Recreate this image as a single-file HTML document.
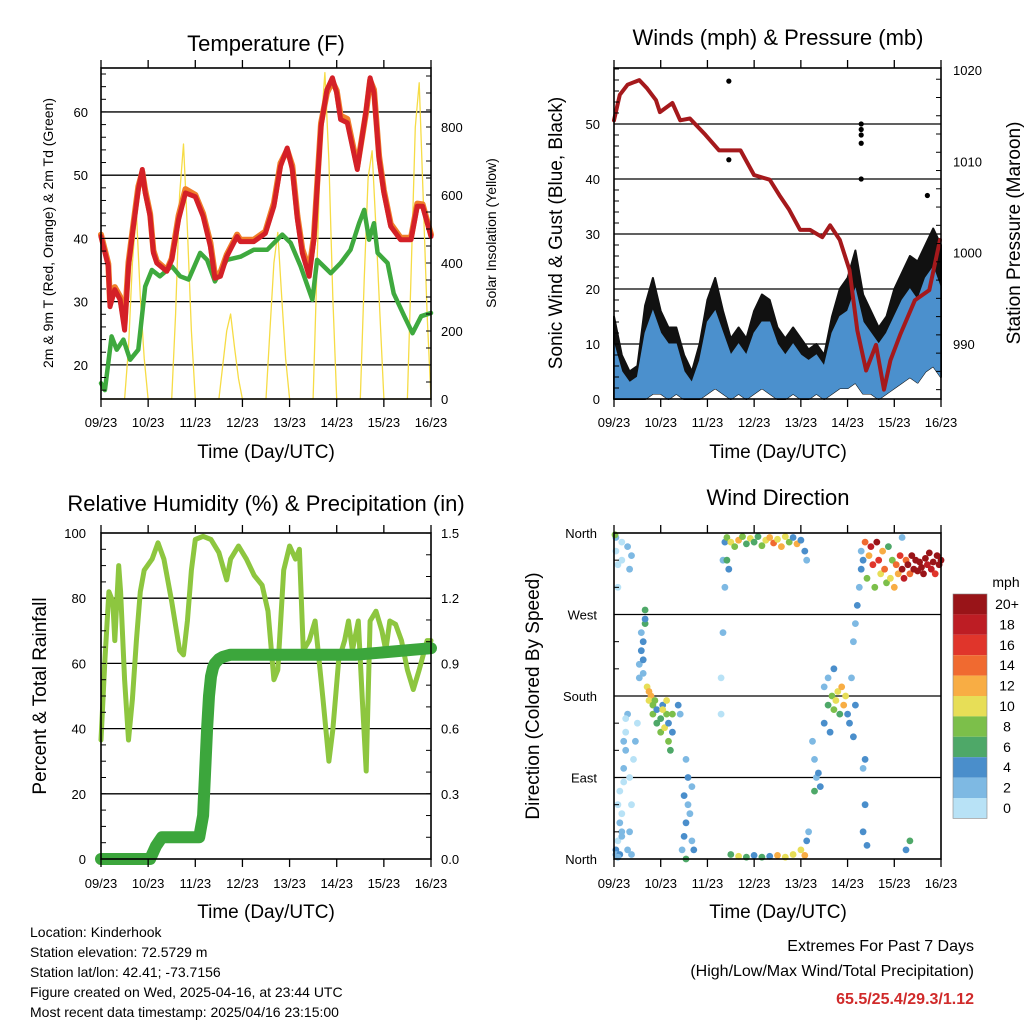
<!DOCTYPE html>
<html><head><meta charset="utf-8">
<style>
html,body{margin:0;padding:0;background:#fff;}
svg{display:block;font-family:"Liberation Sans",sans-serif;}
</style></head>
<body>
<svg id="c" width="1024" height="1024" viewBox="0 0 1024 1024"></svg>
<script>
// ---------- DATA ----------
const tempHours=[0,3.7,4.6,7,9.7,12,14,16.5,19,21,22.5,25,26.7,28.4,33.5,36,39.5,43,48,52,55.7,58,60.8,64,69.3,70.9,77.8,83.7,88,91.4,94.8,97.4,100,102.5,106,108.4,112,115,117.8,120,122,125.4,130.5,135,137,139,141.6,144,147.5,152.5,157.8,161,163.7,168];
const temp2m=[40.3,35.6,29.2,31.9,30.3,25.5,35.6,41.9,47.7,50.9,47.2,43.5,37.7,36.1,34.8,36.6,43,47.2,46.6,43.5,38.7,33.7,34,37.1,40.3,39.5,39.5,40.8,45.1,51.4,54.3,50.9,43,37.7,34,39.8,57.7,63.5,65.4,63,58.8,58.3,50.9,60.4,65.4,63,52.5,47.2,41.9,39.8,39.8,45.1,45.1,40.3];
const temp9m=[40.6,36.0,30.0,32.3,30.8,26.5,36.2,42.3,48.2,50.5,47.6,43.9,38.1,36.4,35.0,36.8,43.6,47.8,46.9,43.9,39.3,34.3,34.6,37.4,40.6,39.8,39.8,41.1,45.6,51.9,54.0,51.5,43.6,38.3,35.0,40.3,58.2,63.0,64.8,63.4,59.4,58.9,51.4,60.0,65.0,63.5,53.0,47.6,42.3,40.1,40.1,45.5,45.4,40.6];
const tdHours=[0,2,5.4,8,11.4,14.8,19,22.5,25.9,30,36,40.3,44.6,50.5,54,58,64,71,77.8,84.6,92.3,96.5,101.6,107.6,110,117,122,127,131.4,134,136.5,139,140.8,145.9,149,154.4,158.6,163,168];
const dewpoint=[17.1,16,24.5,22.4,24,20.8,22.4,32.4,35,34,35.6,34,33.5,37.7,36.6,33.2,36.6,37.1,38.2,38.2,40.6,39.3,35.6,30.3,36.6,34.5,36.1,38.2,42.4,44.5,39.8,42.4,37.7,36.1,31.3,27.7,25,27.7,28.2];
// solar every 2 hours starting hour 0
const solar=[0,0,0,0,0,0,0,150,400,550,300,120,
0,0,0,0,0,0,0,250,600,750,500,200,
0,0,0,0,0,0,0,100,200,250,150,60,
0,0,0,0,0,0,0,200,400,490,300,120,
0,0,0,0,0,0,0,400,800,960,700,300,
0,0,0,0,0,0,0,350,650,730,500,250,
0,0,0,0,0,0,0,400,800,930,600,250,0];
const presHours=[0,3,7,13,17,21.6,23.6,30,34,39,47,54,65,72,80,85,90,95.6,100.7,107,111,116,121,125,129.5,134.6,138.7,142,147,154.6,162,167.5];
const pressure=[1014.5,1017.3,1018.4,1018.9,1018.0,1016.7,1015.4,1016.4,1014.5,1014.7,1012.9,1011.2,1011.2,1008.5,1008,1006.3,1004.7,1002.5,1002.5,1001.7,1003,1001.4,998.1,991.5,987.1,989.9,985,988.2,991,994.8,995.9,1001.4];
// wind every 4 hours
const windLo=[0,0,0,0,0,1,1,0,1,0,0,0,1,2,1,0,1,0,1,2,1,0,0,1,0,0,1,0,1,2,2,3,1,1,0,1,2,3,4,3,5,6,4];
const windHi=[10,5,3,4,12,16,12,10,10,5,3,7,14,16,12,8,10,8,12,14,14,10,8,10,8,7,8,6,12,15,16,20,14,12,10,12,15,18,20,18,22,24,20];
const gustHi=[15,8,5,6,17,22,16,13,13,8,5,10,18,22,16,11,13,11,16,19,18,13,11,13,11,9,10,8,15,20,22,27,19,16,13,15,20,23,26,25,28,31,28];
const gustOutHours=[59,59,127,127,127,127,127,161];
const gustOutVals=[57.8,43.5,50,49,48,46.5,40,37];
const rhHours=[0,2,4,6,7,9,10,12,14,16,18,20,22,26,29,32,36,40,42,44,46,48,52,56,60,64,66,70,74,78,82,85,88,90,93,96,99,101,103,106,109,113,116,118,121,124,126,128,131,133,135,137,140,143,145,147,150,153,156,159,162,166,168];
const rh=[36.5,61,82,79,67,90,82,55,36.5,49,67,82,88.6,92,97,92,79,64,62.6,73,88.6,98,99,98,94,85.6,92,96,92,87,84,76,55,58,88.6,96,92,95,64,67,73,49,30,39.6,61,67,73,64,73,49,27,73,76,70,64,73,72,67,58,52,58,67,67];
const precipHours=[0,25,28,31,50,52,53,54,55,56,57,58,60,62,66,130,168];
const precip=[0,0,0.06,0.1,0.1,0.2,0.4,0.6,0.75,0.84,0.88,0.9,0.92,0.93,0.94,0.94,0.97];
// wind direction points: [hour, degrees, mph]
const dirPts=[[1,355,2],[1,340,1],[2,325,0],[2,300,1],[4,350,1],[4,330,0],[7,345,3],[8,320,2],[9,335,2],[0.5,358,8],
[1,10,4],[1,5,3],[2,20,1],[3,40,2],[2,60,1],[3,75,1],[4,30,2],[4,50,1],[5,85,1],[5,100,2],[6,120,2],[6,140,1],[5,130,3],[7,160,2],[6,155,1],[4,25,3],[8,90,1],[9,60,1],[8,30,2],[7,10,3],[9,5,2],[3,5,4],[2,2,3],[10,110,1],[11,130,2],[12,150,1],
[13,215,3],[14,230,4],[13,200,2],[14,250,2],[15,240,4],[16,260,7],[16,275,6],[16,265,4],[15,220,4],[15,205,2],
[17,190,11],[18,185,13],[19,180,12],[18,175,10],[20,170,9],[21,175,8],[20,160,8],[22,165,5],[22,150,7],[24,155,6],[25,170,4],[24,140,9],[26,145,10],[27,160,8],[28,130,9],[28,150,4],[30,140,5],[30,160,8],[29,120,7],[33,170,4],[34,160,3],[27,175,10],[25,165,11],
[35,10,3],[36,25,5],[37,40,4],[38,60,3],[36,70,4],[38,90,4],[37,110,2],[39,50,3],[40,20,3],[41,10,4],[37,0,6],[40,80,3],
[55,200,1],[56,250,2],[57,300,2],[56,330,3],[57,350,4],[55,160,1],
[58,355,8],[60,350,10],[62,345,9],[64,352,12],[66,356,8],[68,348,6],[70,354,11],[72,350,6],[74,356,7],[76,346,9],[78,352,10],[80,355,13],[82,349,14],[84,353,10],[86,345,12],[88,356,11],[90,350,9],[92,355,5],[94,348,12],[96,352,4],[98,340,4],[99,330,3],[58,330,6],[59,320,4],
[60,5,6],[64,3,10],[68,2,6],[72,4,5],[76,2,6],[80,3,4],[84,4,12],[88,2,10],[92,5,10],[96,10,11],[98,4,12],[99,20,4],[100,30,3],
[102,130,3],[103,110,2],[104,90,3],[105,95,4],[106,80,5],[103,75,6],[108,150,4],[108,190,2],[110,170,6],[110,200,3],[112,180,8],[113,165,9],[114,175,10],[115,185,11],[116,160,7],[117,190,12],[118,170,13],[119,180,11],[120,160,5],[121,150,4],[122,200,3],[111,140,4],[113,210,5],[123,240,2],[124,260,3],[125,280,4],[126,300,3],[127,320,5],[124,170,4],[123,135,4],[128,100,3],[129,60,4],[128,30,5],[130,15,4],[129,110,4],
[127,340,3],[128,330,4],[129,350,14],[130,310,8],[131,335,12],[132,345,18],[133,325,16],[134,300,9],[135,350,20],[136,330,17],[137,315,10],[138,340,12],[139,320,14],[140,305,8],[141,345,7],[142,310,10],[143,330,9],[144,300,13],[145,325,14],[146,315,12],[147,335,16],[148,320,20],[149,310,18],[150,330,15],[151,325,20],[152,315,14],[153,335,21],[154,320,21],[155,330,20],[156,318,20],[157,328,21],[158,322,22],[159,315,20],[160,332,21],[161,325,19],[162,338,20],[163,320,18],[164,328,21],[165,315,17],[166,335,22],[167,325,21],[168,330,20],[150,10,4],[152,20,6],[148,355,2]];
const dayLabels=["09/23","10/23","11/23","12/23","13/23","14/23","15/23","16/23"];
const speedLabels=["0","2","4","6","8","10","12","14","16","18","20+"];
const speedColors=["#b8e2f6","#7eb9e3","#4a8ecb","#4ea868","#7cbf4a","#e7de57","#f8ad44","#f06a30","#e0352b","#bd1d24","#991418"];

// ---------- HELPERS ----------
const svg=document.getElementById('c');
const NS="http://www.w3.org/2000/svg";
function mk(tag,attrs,parent){const e=document.createElementNS(NS,tag);for(const k in attrs)e.setAttribute(k,attrs[k]);(parent||svg).appendChild(e);return e;}
function txt(s,x,y,size,anchor,parent,extra){const t=mk('text',Object.assign({x:x,y:y,'font-size':size,'text-anchor':anchor||'middle',fill:'#000'},extra||{}),parent);t.textContent=s;return t;}
function grp(name){const g=mk('g',{});return g;}
function frame(g,x0,x1,y0,y1,minorL,minorR,yL,yR){
  mk('rect',{x:x0,y:y0,width:x1-x0,height:y1-y0,fill:'none',stroke:'#000','stroke-width':1.6},g);
  for(let d=0;d<=7;d++){const x=x0+d*(x1-x0)/7;
    mk('line',{x1:x,x2:x,y1:y0,y2:y0-8,stroke:'#000','stroke-width':1.3},g);
    mk('line',{x1:x,x2:x,y1:y1,y2:y1+8,stroke:'#000','stroke-width':1.3},g);}
  minorL.forEach(v=>{const y=yL(v);if(y>=y0&&y<=y1)mk('line',{x1:x0,x2:x0+5,y1:y,y2:y,stroke:'#000','stroke-width':1},g);});
  minorR.forEach(v=>{const y=yR(v);if(y>=y0&&y<=y1)mk('line',{x1:x1,x2:x1-5,y1:y,y2:y,stroke:'#000','stroke-width':1},g);});
}
function xLabels(g,x0,x1,y){dayLabels.forEach((s,i)=>{const t=txt(s,x0+i*(x1-x0)/7,y,13,'middle',g);});}
function line(g,hs,vs,xh,ys,color,w,name){
  const pts=hs.map((h,i)=>xh(h).toFixed(1)+','+ys(vs[i]).toFixed(1)).join(' ');
  const p=mk('polyline',{points:pts,fill:'none',stroke:color,'stroke-width':w,'stroke-linejoin':'round','stroke-linecap':'round'},g);
  return p;
}

// ---------- PANEL 1: TEMPERATURE ----------
{
 const x0=101,x1=431,y0=68,y1=399;
 const yT=v=>y1-(v-14.6)/(66.95-14.6)*(y1-y0);
 const yS=v=>y1-v*0.34;
 const xh=h=>x0+h/168*(x1-x0);
 const g=grp('temperature-chart');
 [20,30,40,50,60].forEach(v=>mk('line',{x1:x0,x2:x1,y1:yT(v),y2:yT(v),stroke:'#000','stroke-width':1.3},g));
 const sh=solar.map((v,i)=>i*2);
 line(g,sh,solar,xh,yS,'#f6dc45',1.3,'solar-insolation-line');
 line(g,tdHours,dewpoint,xh,yT,'#3ea93e',4.5,'dewpoint-line');
 line(g,tempHours,temp9m,xh,yT,'#f07f2a',6,'temp-9m-line');
 line(g,tempHours,temp2m,xh,yT,'#d42027',5,'temp-2m-line');
 const minL=[];for(let v=16;v<=66;v+=2)minL.push(v);
 const minR=[];for(let v=0;v<=950;v+=50)minR.push(v);
 frame(g,x0,x1,y0,y1,minL,minR,yT,yS);
 [20,30,40,50,60].forEach(v=>txt(String(v),88,yT(v)+5,13,'end',g));
 [0,200,400,600,800].forEach(v=>txt(String(v),441,yS(v)+5,13,'start',g));
 xLabels(g,x0,x1,427);
 const t1=txt('Temperature (F)',266,51,22,'middle',g);
 txt('Time (Day/UTC)',266,458,19,'middle',g);
 txt('2m & 9m T (Red, Orange) & 2m Td (Green)',0,0,14,'middle',g,{transform:'translate(53,233) rotate(-90)'});
 txt('Solar Insolation (Yellow)',0,0,14,'middle',g,{transform:'translate(496,233) rotate(-90)'});
}

// ---------- PANEL 2: WINDS ----------
{
 const x0=614,x1=941,y0=68,y1=399;
 const yW=v=>y1-v*5.5;
 const yP=p=>344-(p-990)*9.13;
 const xh=h=>x0+h/168*(x1-x0);
 const g=grp('winds-chart');
 [10,20,30,40,50].forEach(v=>mk('line',{x1:x0,x2:x1,y1:yW(v),y2:yW(v),stroke:'#000','stroke-width':1.3},g));
 const wh=windLo.map((v,i)=>i*4);
 const bandPts=(lo,hi)=>wh.map((h,i)=>xh(h).toFixed(1)+','+yW(hi[i]).toFixed(1)).concat(wh.slice().reverse().map((h,j)=>{const i=wh.length-1-j;return xh(h).toFixed(1)+','+yW(lo[i]).toFixed(1);})).join(' ');
 const gb=mk('polygon',{points:bandPts(windLo,gustHi),fill:'#111',stroke:'#111','stroke-width':2,'stroke-linejoin':'round'},g);
 
 const wb=mk('polygon',{points:bandPts(windLo,windHi),fill:'#4b90cd',stroke:'#4b90cd','stroke-width':1},g);
 
 gustOutHours.forEach((h,i)=>{const c=mk('circle',{cx:xh(h),cy:yW(gustOutVals[i]),r:2.6,fill:'#000'},g);
   });
 line(g,presHours,pressure,xh,yP,'#a5191c',4,'pressure-line');
 const minL=[];for(let v=0;v<=60;v+=2)minL.push(v);
 const minR=[];for(let v=985;v<=1020;v+=2)minR.push(v);
 frame(g,x0,x1,y0,y1,minL,minR,yW,yP);
 [0,10,20,30,40,50].forEach(v=>txt(String(v),600,yW(v)+5,13,'end',g));
 [990,1000,1010,1020].forEach(v=>txt(String(v),953,yP(v)+5,13,'start',g));
 xLabels(g,x0,x1,427);
 txt('Winds (mph) & Pressure (mb)',778,45,22,'middle',g);
 txt('Time (Day/UTC)',778,458,19,'middle',g);
 txt('Sonic Wind & Gust (Blue, Black)',0,0,19,'middle',g,{transform:'translate(562,233) rotate(-90)'});
 txt('Station Pressure (Maroon)',0,0,19,'middle',g,{transform:'translate(1020,233) rotate(-90)'});
}

// ---------- PANEL 3: RH & PRECIP ----------
{
 const x0=101,x1=431,y0=533,y1=859;
 const yR=v=>y1-v*3.26;
 const yPr=v=>y1-v*217.3;
 const xh=h=>x0+h/168*(x1-x0);
 const g=grp('humidity-precip-chart');
 [20,40,60,80].forEach(v=>mk('line',{x1:x0,x2:x1,y1:yR(v),y2:yR(v),stroke:'#000','stroke-width':1.3},g));
 line(g,rhHours,rh,xh,yR,'#8dc63f',5,'humidity-line');
 line(g,precipHours,precip,xh,yPr,'#3ca63c',12,'precip-line');
 const minL=[];for(let v=0;v<=100;v+=5)minL.push(v);
 const minR=[];for(let v=0;v<=1.5001;v+=0.1)minR.push(v);
 frame(g,x0,x1,y0,y1,minL,minR,yR,yPr);
 [0,20,40,60,80,100].forEach(v=>txt(String(v),86,yR(v)+5,13,'end',g));
 [0,0.3,0.6,0.9,1.2,1.5].forEach(v=>txt(v.toFixed(1),441,yPr(v)+5,13,'start',g));
 xLabels(g,x0,x1,888);
 txt('Relative Humidity (%) & Precipitation (in)',266,511,22,'middle',g);
 txt('Time (Day/UTC)',266,918,19,'middle',g);
 txt('Percent & Total Rainfall',0,0,19,'middle',g,{transform:'translate(46,696) rotate(-90)'});
}

// ---------- PANEL 4: WIND DIRECTION ----------
{
 const x0=614,x1=941,y0=533,y1=859;
 const yD=d=>y1-d/360*(y1-y0);
 const xh=h=>x0+h/168*(x1-x0);
 const g=grp('wind-direction-chart');
 [90,180,270].forEach(v=>mk('line',{x1:x0,x2:x1,y1:yD(v),y2:yD(v),stroke:'#000','stroke-width':1.3},g));
 dirPts.forEach(p=>{const b=Math.min(10,Math.floor(p[2]/2));
   const c=mk('circle',{cx:xh(p[0]).toFixed(1),cy:yD(p[1]).toFixed(1),r:3.4,fill:speedColors[b]},g);
   });
 const minL=[];for(let v=0;v<=360;v+=30)minL.push(v);
 frame(g,x0,x1,y0,y1,minL,[],yD,yD);
 [['North',0],['East',90],['South',180],['West',270],['North',360]].forEach(a=>txt(a[0],597,yD(a[1])+5,13,'end',g));
 xLabels(g,x0,x1,888);
 txt('Wind Direction',778,505,22,'middle',g);
 txt('Time (Day/UTC)',778,918,19,'middle',g);
 txt('Direction (Colored By Speed)',0,0,19,'middle',g,{transform:'translate(539,696) rotate(-90)'});
 const cb=grp('speed-colorbar');
 txt('mph',1006,587,14,'middle',cb);
 const top=594,bh=20.4;
 speedColors.slice().reverse().forEach((c,i)=>{mk('rect',{x:953,y:top+i*bh,width:34,height:bh,fill:c},cb);
   txt(speedLabels[10-i],1007,top+i*bh+15,14,'middle',cb);});
 mk('rect',{x:953,y:top,width:34,height:bh*11,fill:'none',stroke:'#888','stroke-width':0.6},cb);
}

// ---------- FOOTER TEXT ----------
{
 const g=grp('station-info');
 ['Location: Kinderhook','Station elevation: 72.5729 m','Station lat/lon: 42.41; -73.7156','Figure created on Wed, 2025-04-16, at 23:44 UTC','Most recent data timestamp: 2025/04/16 23:15:00']
  .forEach((s,i)=>txt(s,30,937+i*20,14,'start',g));
 const e=grp('extremes-info');
 txt('Extremes For Past 7 Days',974,951,16,'end',e);
 txt('(High/Low/Max Wind/Total Precipitation)',974,976,16,'end',e);
 txt('65.5/25.4/29.3/1.12',974,1004,16,'end',e,{fill:'#d02a2a','font-weight':'bold'});
}
</script>
</body></html>
